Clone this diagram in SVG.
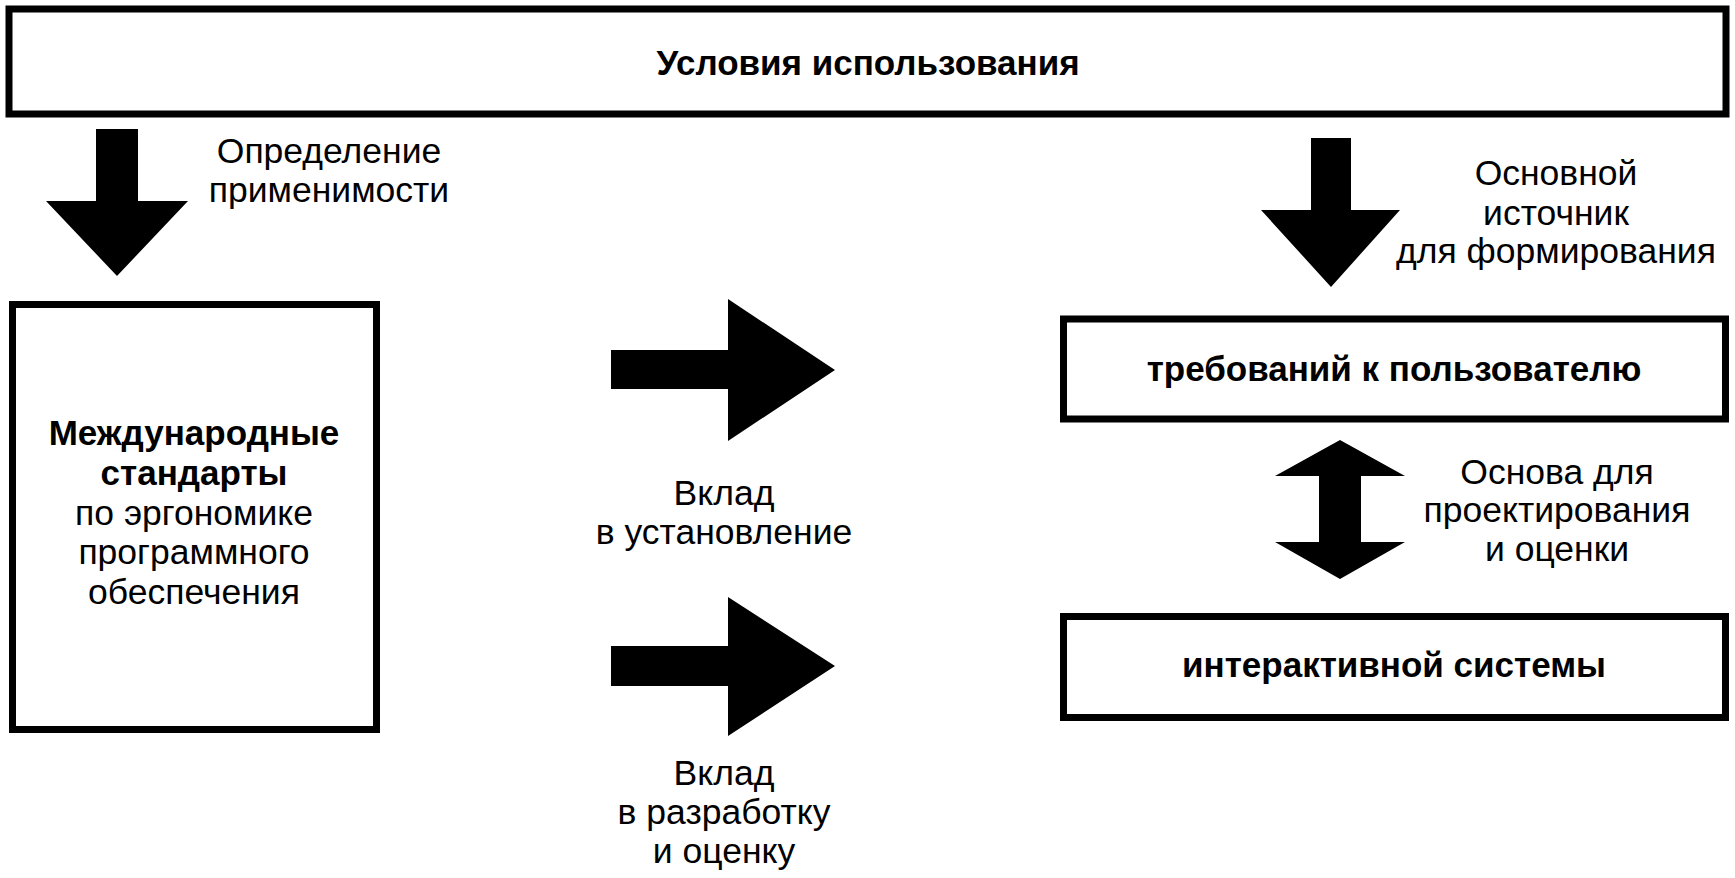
<svg xmlns="http://www.w3.org/2000/svg" width="1735" height="878" viewBox="0 0 1735 878">
<style>
.box{fill:#fff;stroke:#000;stroke-width:7}
.arr{fill:#000;stroke:none}
text{font-family:"Liberation Sans",Arial,sans-serif;font-size:35.5px;fill:#000;text-anchor:middle}
.b{font-weight:bold;font-size:35px}
</style>
<rect width="1735" height="878" fill="#fff"/>
<g id="context">
<rect class="box" x="9" y="9" width="1717" height="105"/>
<text class="b" x="868" y="75">Условия использования</text>
</g>
<g id="standards">
<rect class="box" x="12.5" y="304.5" width="364" height="425"/>
<text class="b" x="194" y="445">Международные</text>
<text class="b" x="194" y="485">стандарты</text>
<text x="194" y="525">по эргономике</text>
<text x="194" y="564">программного</text>
<text x="194" y="604">обеспечения</text>
</g>
<g id="requirements">
<rect class="box" x="1063.5" y="319" width="662" height="100"/>
<text class="b" x="1394" y="381">требований к пользователю</text>
</g>
<g id="system">
<rect class="box" x="1063.5" y="616.5" width="662" height="101"/>
<text class="b" x="1394" y="677">интерактивной системы</text>
</g>
<g id="connectors">
<polygon class="arr" points="96,129 138,129 138,201 188,201 117,276 46,201 96,201"/>
<text x="329" y="163">Определение</text>
<text x="329" y="202">применимости</text>
<polygon class="arr" points="1311,138 1351,138 1351,210 1400,210 1331,287 1261,210 1311,210"/>
<text x="1556" y="185">Основной</text>
<text x="1556" y="225">источник</text>
<text x="1556" y="263">для формирования</text>
<polygon class="arr" points="611,350 728,350 728,299 835,370 728,441 728,389 611,389"/>
<text x="724" y="505">Вклад</text>
<text x="724" y="544">в установление</text>
<polygon class="arr" points="611,646 728,646 728,597 835,666 728,736 728,686 611,686"/>
<text x="724" y="785">Вклад</text>
<text x="724" y="824">в разработку</text>
<text x="724" y="863">и оценку</text>
<polygon class="arr" points="1340,440 1405,476 1361,476 1361,542 1405,542 1340,579 1275,542 1319,542 1319,476 1275,476"/>
<text x="1557" y="484">Основа для</text>
<text x="1557" y="522">проектирования</text>
<text x="1557" y="561">и оценки</text>
</g>
</svg>
